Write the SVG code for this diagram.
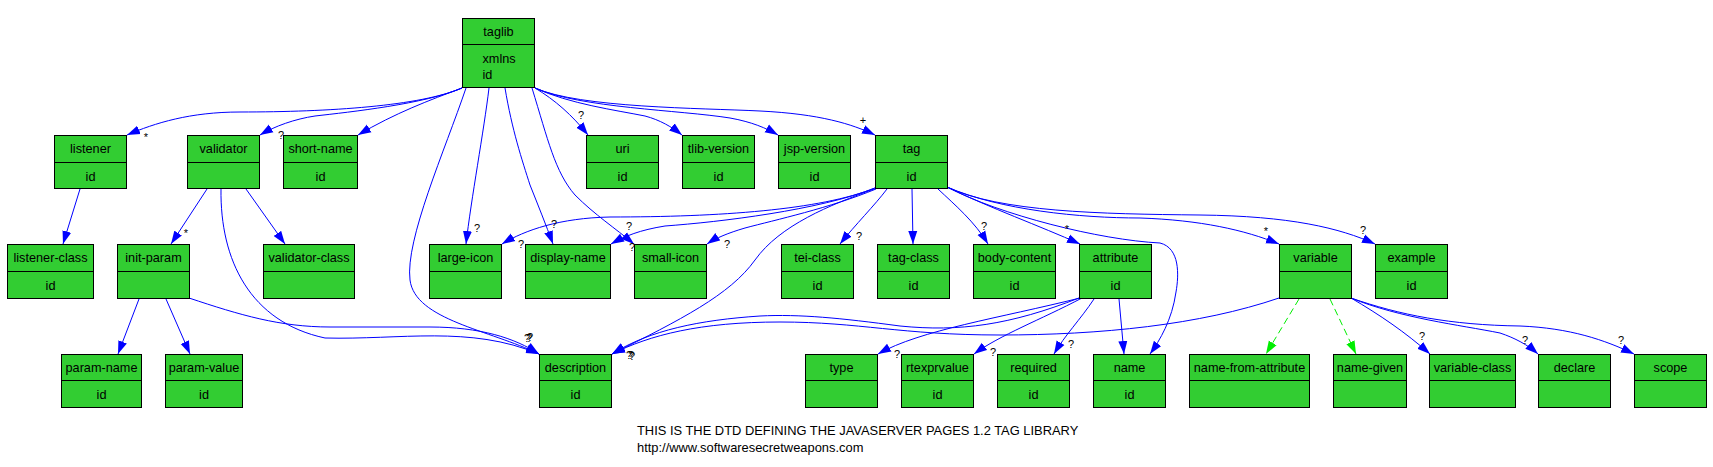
<svg xmlns="http://www.w3.org/2000/svg" width="1713" height="467" viewBox="0 0 1713 467">
<style>
.n rect{fill:#32CD32;stroke:#000;stroke-width:1}
.n line{stroke:#000;stroke-width:1}
.n text{font-family:"Liberation Sans",Arial,sans-serif;font-size:12.7px;fill:#000;text-anchor:middle}
.n text.l{text-anchor:start}
.e path{fill:none;stroke:#0000FF;stroke-width:1}
.e path.g{stroke:#00EE00;stroke-dasharray:7 4}
.e text{font-family:"Liberation Sans",Arial,sans-serif;font-size:11px;fill:#000;text-anchor:middle}
.f{font-family:"Liberation Sans",Arial,sans-serif;font-size:12.9px;fill:#000}
</style>
<defs>
<marker id="a" markerUnits="userSpaceOnUse" markerWidth="14" markerHeight="10" refX="13" refY="5" orient="auto"><path d="M0,0.5 L13,5 L0,9.5 z" fill="#0000FF"/></marker>
<marker id="ag" markerUnits="userSpaceOnUse" markerWidth="14" markerHeight="10" refX="13" refY="5" orient="auto"><path d="M0,0.5 L13,5 L0,9.5 z" fill="#00EE00"/></marker>
</defs>
<rect width="1713" height="467" fill="#fff"/>
<g id="connectors" class="e">
<g marker-end="url(#a)">
<path d="M462,88 C 420,106 330,112 240,112 C 190,112 155,123 127,135"/>
<path d="M462,88 C 425,104 350,112 315,116 C 295,119 275,126 260,135"/>
<path d="M462,88 C 430,100 395,113 358,135"/>
<path d="M466,88 C 445,150 405,240 410,280 C 415,320 490,330 539,354"/>
<path d="M489,88 C 484,130 471,200 466,244"/>
<path d="M505,88 C 512,130 522,160 530,185 C 538,205 546,225 553,244"/>
<path d="M532,88 C 548,140 555,172 575,195 C 595,215 615,228 634,244"/>
<path d="M535,88 C 555,100 572,115 588,135"/>
<path d="M535,88 C 570,104 615,110 645,116 C 660,120 672,127 682,135"/>
<path d="M535,88 C 580,108 680,110 730,118 C 752,122 766,128 778,135"/>
<path d="M535,88 C 580,108 700,108 760,111 C 820,114 852,124 875,135"/>
<path d="M875,188 C 820,210 720,217 610,217 C 560,218 525,230 502,244"/>
<path d="M875,188 C 820,210 720,222 665,226 C 640,230 625,236 611,244"/>
<path d="M876,189 C 830,208 775,220 745,228 C 728,233 716,238 707,244"/>
<path d="M874,189 C 830,205 780,225 755,260 C 730,295 680,320 612,354"/>
<path d="M887,189 C 875,205 855,225 840,244"/>
<path d="M912,189 L913,244"/>
<path d="M938,189 C 955,205 975,222 988,244"/>
<path d="M947,187 C 990,208 1040,226 1080,244"/>
<path d="M947,187 C 1000,215 1100,240 1160,243 C 1180,248 1179,275 1176,292 C 1172,320 1160,340 1150,354"/>
<path d="M947,187 C 1000,210 1080,218 1140,218 C 1200,220 1245,230 1279,244"/>
<path d="M947,187 C 1000,212 1100,214 1200,215 C 1290,216 1340,228 1375,244"/>
<path d="M80,189 L63,244"/>
<path d="M207,189 L171,244"/>
<path d="M246,189 L285,244"/>
<path d="M221,189 C 220,260 250,322 325,338 C 400,340 470,325 539,354"/>
<path d="M139,299 L118,354"/>
<path d="M166,299 L190,354"/>
<path d="M189,298 C 240,315 280,327 330,327 L430,327 C 480,327 515,338 539,354"/>
<path d="M1079,298 C 1010,325 960,332 900,326 C 840,318 800,314 760,316 C 700,320 650,330 612,354"/>
<path d="M1080,298 C 1000,318 920,330 878,354"/>
<path d="M1082,298 C 1040,320 1000,335 974,354"/>
<path d="M1094,299 C 1080,320 1065,335 1054,354"/>
<path d="M1119,299 L1124,354"/>
<path d="M1279,298 C 1200,325 1100,335 1000,335 C 900,335 860,322 780,322 C 700,322 650,335 612,354"/>
<path d="M1351,298 C 1380,315 1405,332 1430,354"/>
<path d="M1351,298 C 1400,318 1460,325 1500,333 C 1515,338 1528,345 1538,354"/>
<path d="M1351,298 C 1400,315 1450,325 1520,326 C 1570,328 1605,340 1634,354"/>
</g>
<g marker-end="url(#ag)">
<path class="g" d="M1299,299 L1266,354"/>
<path class="g" d="M1330,299 L1356,354"/>
</g>
<text x="146" y="141">*</text>
<text x="281" y="138.5">?</text>
<text x="581" y="119">?</text>
<text x="863" y="124">+</text>
<text x="477" y="231.5">?</text>
<text x="554" y="227.5">?</text>
<text x="629" y="229.5">?</text>
<text x="521" y="248">?</text>
<text x="632" y="251">?</text>
<text x="727" y="248">?</text>
<text x="859" y="240">?</text>
<text x="984" y="230">?</text>
<text x="1067" y="233">*</text>
<text x="1266" y="235">*</text>
<text x="1363" y="234">?</text>
<text x="186" y="236.5">*</text>
<text x="527" y="342">?</text>
<text x="529" y="342">?</text>
<text x="530" y="341">?</text>
<text x="629" y="359">?</text>
<text x="631" y="359">?</text>
<text x="632" y="360">?</text>
<text x="897" y="357.5">?</text>
<text x="993" y="356">?</text>
<text x="1071" y="347.5">?</text>
<text x="1422" y="340">?</text>
<text x="1525" y="343.5">?</text>
<text x="1621" y="343.5">?</text>
</g>
<g id="node-taglib" class="n"><rect x="462.5" y="18.5" width="72" height="69"/><line x1="462.5" y1="44.5" x2="534.5" y2="44.5"/><text x="498.5" y="35.5">taglib</text><text class="l" x="482.5" y="63">xmlns</text><text class="l" x="482.5" y="79">id</text></g>
<g id="node-listener" class="n"><rect x="54.5" y="135.5" width="72" height="53"/><line x1="54.5" y1="162.5" x2="126.5" y2="162.5"/><text x="90.5" y="153">listener</text><text x="90.5" y="180.5">id</text></g>
<g id="node-validator" class="n"><rect x="187.5" y="135.5" width="72" height="53"/><line x1="187.5" y1="162.5" x2="259.5" y2="162.5"/><text x="223.5" y="153">validator</text></g>
<g id="node-short-name" class="n"><rect x="283.5" y="135.5" width="74" height="53"/><line x1="283.5" y1="162.5" x2="357.5" y2="162.5"/><text x="320.5" y="153">short-name</text><text x="320.5" y="180.5">id</text></g>
<g id="node-uri" class="n"><rect x="586.5" y="135.5" width="72" height="53"/><line x1="586.5" y1="162.5" x2="658.5" y2="162.5"/><text x="622.5" y="153">uri</text><text x="622.5" y="180.5">id</text></g>
<g id="node-tlib-version" class="n"><rect x="682.5" y="135.5" width="72" height="53"/><line x1="682.5" y1="162.5" x2="754.5" y2="162.5"/><text x="718.5" y="153">tlib-version</text><text x="718.5" y="180.5">id</text></g>
<g id="node-jsp-version" class="n"><rect x="778.5" y="135.5" width="72" height="53"/><line x1="778.5" y1="162.5" x2="850.5" y2="162.5"/><text x="814.5" y="153">jsp-version</text><text x="814.5" y="180.5">id</text></g>
<g id="node-tag" class="n"><rect x="875.5" y="135.5" width="72" height="53"/><line x1="875.5" y1="162.5" x2="947.5" y2="162.5"/><text x="911.5" y="153">tag</text><text x="911.5" y="180.5">id</text></g>
<g id="node-listener-class" class="n"><rect x="7.5" y="244.5" width="86" height="54"/><line x1="7.5" y1="271.5" x2="93.5" y2="271.5"/><text x="50.5" y="262">listener-class</text><text x="50.5" y="289.5">id</text></g>
<g id="node-init-param" class="n"><rect x="117.5" y="244.5" width="72" height="54"/><line x1="117.5" y1="271.5" x2="189.5" y2="271.5"/><text x="153.5" y="262">init-param</text></g>
<g id="node-validator-class" class="n"><rect x="263.5" y="244.5" width="91" height="54"/><line x1="263.5" y1="271.5" x2="354.5" y2="271.5"/><text x="309" y="262">validator-class</text></g>
<g id="node-large-icon" class="n"><rect x="429.5" y="244.5" width="72" height="54"/><line x1="429.5" y1="271.5" x2="501.5" y2="271.5"/><text x="465.5" y="262">large-icon</text></g>
<g id="node-display-name" class="n"><rect x="525.5" y="244.5" width="85" height="54"/><line x1="525.5" y1="271.5" x2="610.5" y2="271.5"/><text x="568" y="262">display-name</text></g>
<g id="node-small-icon" class="n"><rect x="634.5" y="244.5" width="72" height="54"/><line x1="634.5" y1="271.5" x2="706.5" y2="271.5"/><text x="670.5" y="262">small-icon</text></g>
<g id="node-tei-class" class="n"><rect x="781.5" y="244.5" width="72" height="54"/><line x1="781.5" y1="271.5" x2="853.5" y2="271.5"/><text x="817.5" y="262">tei-class</text><text x="817.5" y="289.5">id</text></g>
<g id="node-tag-class" class="n"><rect x="877.5" y="244.5" width="72" height="54"/><line x1="877.5" y1="271.5" x2="949.5" y2="271.5"/><text x="913.5" y="262">tag-class</text><text x="913.5" y="289.5">id</text></g>
<g id="node-body-content" class="n"><rect x="973.5" y="244.5" width="82" height="54"/><line x1="973.5" y1="271.5" x2="1055.5" y2="271.5"/><text x="1014.5" y="262">body-content</text><text x="1014.5" y="289.5">id</text></g>
<g id="node-attribute" class="n"><rect x="1079.5" y="244.5" width="72" height="54"/><line x1="1079.5" y1="271.5" x2="1151.5" y2="271.5"/><text x="1115.5" y="262">attribute</text><text x="1115.5" y="289.5">id</text></g>
<g id="node-variable" class="n"><rect x="1279.5" y="244.5" width="72" height="54"/><line x1="1279.5" y1="271.5" x2="1351.5" y2="271.5"/><text x="1315.5" y="262">variable</text></g>
<g id="node-example" class="n"><rect x="1375.5" y="244.5" width="72" height="54"/><line x1="1375.5" y1="271.5" x2="1447.5" y2="271.5"/><text x="1411.5" y="262">example</text><text x="1411.5" y="289.5">id</text></g>
<g id="node-param-name" class="n"><rect x="61.5" y="354.5" width="80" height="53"/><line x1="61.5" y1="380.5" x2="141.5" y2="380.5"/><text x="101.5" y="372">param-name</text><text x="101.5" y="399">id</text></g>
<g id="node-param-value" class="n"><rect x="165.5" y="354.5" width="77" height="53"/><line x1="165.5" y1="380.5" x2="242.5" y2="380.5"/><text x="204" y="372">param-value</text><text x="204" y="399">id</text></g>
<g id="node-description" class="n"><rect x="539.5" y="354.5" width="72" height="53"/><line x1="539.5" y1="380.5" x2="611.5" y2="380.5"/><text x="575.5" y="372">description</text><text x="575.5" y="399">id</text></g>
<g id="node-type" class="n"><rect x="805.5" y="354.5" width="72" height="53"/><line x1="805.5" y1="380.5" x2="877.5" y2="380.5"/><text x="841.5" y="372">type</text></g>
<g id="node-rtexprvalue" class="n"><rect x="901.5" y="354.5" width="72" height="53"/><line x1="901.5" y1="380.5" x2="973.5" y2="380.5"/><text x="937.5" y="372">rtexprvalue</text><text x="937.5" y="399">id</text></g>
<g id="node-required" class="n"><rect x="997.5" y="354.5" width="72" height="53"/><line x1="997.5" y1="380.5" x2="1069.5" y2="380.5"/><text x="1033.5" y="372">required</text><text x="1033.5" y="399">id</text></g>
<g id="node-name" class="n"><rect x="1093.5" y="354.5" width="72" height="53"/><line x1="1093.5" y1="380.5" x2="1165.5" y2="380.5"/><text x="1129.5" y="372">name</text><text x="1129.5" y="399">id</text></g>
<g id="node-name-from-attribute" class="n"><rect x="1189.5" y="354.5" width="120" height="53"/><line x1="1189.5" y1="380.5" x2="1309.5" y2="380.5"/><text x="1249.5" y="372">name-from-attribute</text></g>
<g id="node-name-given" class="n"><rect x="1333.5" y="354.5" width="73" height="53"/><line x1="1333.5" y1="380.5" x2="1406.5" y2="380.5"/><text x="1370" y="372">name-given</text></g>
<g id="node-variable-class" class="n"><rect x="1429.5" y="354.5" width="86" height="53"/><line x1="1429.5" y1="380.5" x2="1515.5" y2="380.5"/><text x="1472.5" y="372">variable-class</text></g>
<g id="node-declare" class="n"><rect x="1538.5" y="354.5" width="72" height="53"/><line x1="1538.5" y1="380.5" x2="1610.5" y2="380.5"/><text x="1574.5" y="372">declare</text></g>
<g id="node-scope" class="n"><rect x="1634.5" y="354.5" width="72" height="53"/><line x1="1634.5" y1="380.5" x2="1706.5" y2="380.5"/><text x="1670.5" y="372">scope</text></g>
<g id="footer">
<text class="f" x="637" y="435">THIS IS THE DTD DEFINING THE JAVASERVER PAGES 1.2 TAG LIBRARY</text>
<text class="f" x="637" y="451.5">http://www.softwaresecretweapons.com</text>
</g>
</svg>
